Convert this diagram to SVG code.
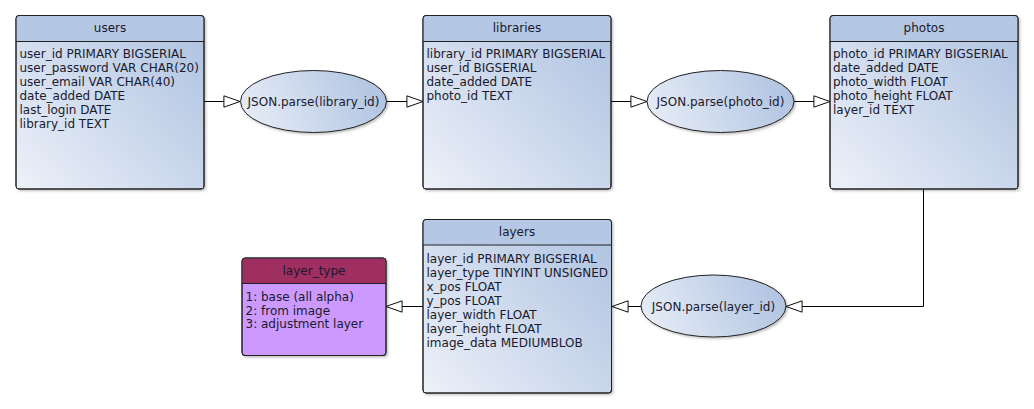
<svg xmlns="http://www.w3.org/2000/svg" width="1034" height="409" viewBox="0 0 1034 409">
<style>
  text { font-family: "DejaVu Sans", "Liberation Sans", sans-serif; font-size: 12px; fill: #1a1a2e; }
  .title { text-anchor: middle; }
  .ell { text-anchor: middle; }
  .box { stroke: #222; stroke-width: 1; }
  .body { fill: url(#bodyGrad); }
  .head { fill: #b4c7e4; }
  .sep { stroke: #222; stroke-width: 1; }
  .conn { fill: none; stroke: #000; stroke-width: 1; marker-end: url(#tri); }
  .ellipse { fill: url(#ellGrad); stroke: #222; stroke-width: 1; }
</style>
<defs>
  <linearGradient id="bodyGrad" x1="0" y1="1" x2="1" y2="0.2">
    <stop offset="0" stop-color="#edf1f9"/>
    <stop offset="1" stop-color="#b2c5e2"/>
  </linearGradient>
  <linearGradient id="ellGrad" x1="0" y1="0.6" x2="1" y2="0.4">
    <stop offset="0" stop-color="#e6ecf6"/>
    <stop offset="1" stop-color="#afc3e1"/>
  </linearGradient>
  <filter id="shadow" x="-10%" y="-10%" width="120%" height="120%">
    <feDropShadow dx="1.5" dy="1.5" stdDeviation="1.2" flood-color="#000" flood-opacity="0.25"/>
  </filter>
  <marker id="tri" markerUnits="userSpaceOnUse" markerWidth="18" markerHeight="14" viewBox="-1 -1 19 14" refX="17" refY="6" orient="auto">
    <path d="M0,0 L17,6 L0,12 Z" fill="#fff" stroke="#000" stroke-width="1"/>
  </marker>
</defs>
<rect width="1034" height="409" fill="#fff"/>

<g id="connectors">
  <path class="conn" d="M204,101.5 H240"/>
  <path class="conn" d="M387,101.5 H423"/>
  <path class="conn" d="M611,101.5 H647"/>
  <path class="conn" d="M794,101.5 H830"/>
  <path class="conn" d="M923.5,189 V306.5 H786"/>
  <path class="conn" d="M641,306.5 H612"/>
  <path class="conn" d="M423,306.5 H386"/>
</g>

<g id="users">
  <rect class="box body" x="16" y="15.5" width="188" height="173.5" rx="3" filter="url(#shadow)"/>
  <path class="head" d="M19,16 H201 Q203.5,16 203.5,19 V41.5 H16.5 V19 Q16.5,16 19,16 Z"/>
  <rect x="16" y="15.5" width="188" height="173.5" rx="3" fill="none" stroke="#222"/>
  <line class="sep" x1="16" y1="41.5" x2="204" y2="41.5"/>
  <text class="title" x="110" y="32">users</text>
  <text x="19.5" y="58">user_id PRIMARY BIGSERIAL</text>
  <text x="19.5" y="72">user_password VAR CHAR(20)</text>
  <text x="19.5" y="86">user_email VAR CHAR(40)</text>
  <text x="19.5" y="100">date_added DATE</text>
  <text x="19.5" y="114">last_login DATE</text>
  <text x="19.5" y="128">library_id TEXT</text>
</g>

<g id="libraries">
  <rect class="box body" x="423" y="15.5" width="188" height="173.5" rx="3" filter="url(#shadow)"/>
  <path class="head" d="M426,16 H608 Q610.5,16 610.5,19 V41.5 H423.5 V19 Q423.5,16 426,16 Z"/>
  <rect x="423" y="15.5" width="188" height="173.5" rx="3" fill="none" stroke="#222"/>
  <line class="sep" x1="423" y1="41.5" x2="611" y2="41.5"/>
  <text class="title" x="517" y="32">libraries</text>
  <text x="426.5" y="58">library_id PRIMARY BIGSERIAL</text>
  <text x="426.5" y="72">user_id BIGSERIAL</text>
  <text x="426.5" y="86">date_added DATE</text>
  <text x="426.5" y="100">photo_id TEXT</text>
</g>

<g id="photos">
  <rect class="box body" x="830" y="15.5" width="188" height="173.5" rx="3" filter="url(#shadow)"/>
  <path class="head" d="M833,16 H1015 Q1017.5,16 1017.5,19 V41.5 H830.5 V19 Q830.5,16 833,16 Z"/>
  <rect x="830" y="15.5" width="188" height="173.5" rx="3" fill="none" stroke="#222"/>
  <line class="sep" x1="830" y1="41.5" x2="1018" y2="41.5"/>
  <text class="title" x="924" y="32">photos</text>
  <text x="833" y="58">photo_id PRIMARY BIGSERIAL</text>
  <text x="833" y="72">date_added DATE</text>
  <text x="833" y="86">photo_width FLOAT</text>
  <text x="833" y="100">photo_height FLOAT</text>
  <text x="833" y="114">layer_id TEXT</text>
</g>

<g id="layers">
  <rect class="box body" x="423" y="219.5" width="188.5" height="173.5" rx="3" filter="url(#shadow)"/>
  <path class="head" d="M426,220 H608.5 Q611,220 611,223 V245 H423.5 V223 Q423.5,220 426,220 Z"/>
  <rect x="423" y="219.5" width="188.5" height="173.5" rx="3" fill="none" stroke="#222"/>
  <line class="sep" x1="423" y1="245" x2="611.5" y2="245"/>
  <text class="title" x="517" y="236">layers</text>
  <text x="426.5" y="263">layer_id PRIMARY BIGSERIAL</text>
  <text x="426.5" y="277">layer_type TINYINT UNSIGNED</text>
  <text x="426.5" y="291">x_pos FLOAT</text>
  <text x="426.5" y="305">y_pos FLOAT</text>
  <text x="426.5" y="319">layer_width FLOAT</text>
  <text x="426.5" y="333">layer_height FLOAT</text>
  <text x="426.5" y="347">image_data MEDIUMBLOB</text>
</g>

<g id="layer_type">
  <rect x="242" y="258" width="144" height="97.5" rx="3" fill="#cc99ff" stroke="#222" filter="url(#shadow)"/>
  <path d="M245,258.5 H383 Q385.5,258.5 385.5,261 V283.5 H242.5 V261 Q242.5,258.5 245,258.5 Z" fill="#9e2f60"/>
  <rect x="242" y="258" width="144" height="97.5" rx="3" fill="none" stroke="#222"/>
  <line class="sep" x1="242" y1="283.5" x2="386" y2="283.5"/>
  <text class="title" x="314" y="274.5">layer_type</text>
  <text x="245.5" y="300.5">1: base (all alpha)</text>
  <text x="245.5" y="314.5">2: from image</text>
  <text x="245.5" y="328">3: adjustment layer</text>
</g>

<g id="parse_library">
  <ellipse class="ellipse" cx="313.5" cy="101.5" rx="73" ry="31" filter="url(#shadow)"/>
  <text class="ell" x="313.5" y="106">JSON.parse(library_id)</text>
</g>

<g id="parse_photo">
  <ellipse class="ellipse" cx="720.5" cy="101.5" rx="73.5" ry="31" filter="url(#shadow)"/>
  <text class="ell" x="720.5" y="106">JSON.parse(photo_id)</text>
</g>

<g id="parse_layer">
  <ellipse class="ellipse" cx="713.5" cy="306" rx="72.5" ry="31" filter="url(#shadow)"/>
  <text class="ell" x="713.5" y="310.5">JSON.parse(layer_id)</text>
</g>
</svg>
